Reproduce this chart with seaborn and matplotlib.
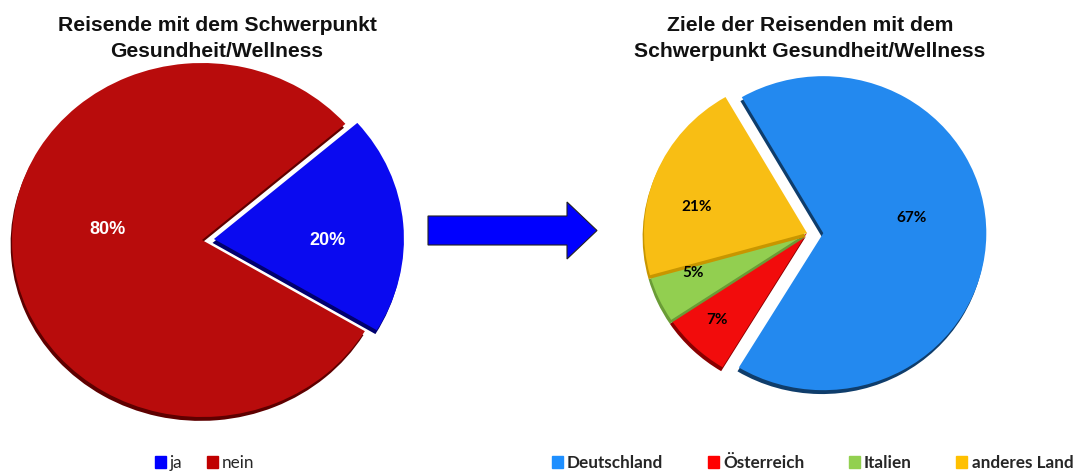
import matplotlib
matplotlib.use("Agg")
import matplotlib.pyplot as plt
import matplotlib.patheffects as pe
from matplotlib.patches import Patch, FancyArrow
import numpy as np
import seaborn as sns

W, H = 1077, 473

# data
left_title = ["Reisende mit dem Schwerpunkt", "Gesundheit/Wellness"]
left_labels = ["ja", "nein"]
left_values = [20, 80]

right_title = ["Ziele der Reisenden mit dem", "Schwerpunkt Gesundheit/Wellness"]
right_labels = ["Deutschland", "Österreich", "Italien", "anderes Land"]
right_values = [67, 7, 5, 21]

# colours
left_colors = ["#0A0AF0", "#B80C0C"]
left_shadow = ["#00006E", "#5E0000"]
left_legend = ["#0000FF", "#C00000"]
right_colors = ["#2389EF", "#F20C0C", "#92CF50", "#F8BE14"]
right_shadow = ["#0F3D6B", "#8A0000", "#6A9C36", "#C89600"]
right_legend = ["#1E8FFF", "#FF0000", "#92D050", "#FFC000"]

sns.set_theme(style="white")
plt.rcParams["font.family"] = ["Liberation Sans", "DejaVu Sans"]

fig = plt.figure(figsize=(W / 100, H / 100), dpi=100)

# overlay axes in pixel units (y up) for titles, arrow and legends
ax0 = fig.add_axes([0, 0, 1, 1])
ax0.set_xlim(0, W)
ax0.set_ylim(0, H)
ax0.axis("off")


def pie_axes(cx, cy, rx, ry, pad=1.3):
    # cx, cy in image pixels (measured from top)
    return fig.add_axes([(cx - pad * rx) / W, (H - cy - pad * ry) / H,
                         2 * pad * rx / W, 2 * pad * ry / H])


def draw_pie(ax, values, colors, shadows, startangle, explode, label_r, label_shift, text_kw):
    wedges, _ = ax.pie(values, colors=colors, startangle=startangle,
                       counterclock=False, explode=explode, radius=1,
                       frame=True, wedgeprops=dict(linewidth=0))
    for w, sh in zip(wedges, shadows):
        w.set_path_effects([pe.SimplePatchShadow(offset=(-1, -2.8), shadow_rgbFace=sh, alpha=1.0),
                            pe.Normal()])
    for w, v, r, s in zip(wedges, values, label_r, label_shift):
        ang = np.deg2rad((w.theta1 + w.theta2) / 2 + s)
        cx, cy = w.center
        ax.text(cx + r * np.cos(ang), cy + r * np.sin(ang), f"{v}%",
                ha="center", va="center", **text_kw)
    ax.set_xlim(-1.3, 1.3)
    ax.set_ylim(-1.3, 1.3)
    ax.set_aspect("auto")
    ax.axis("off")


# left pie
axl = pie_axes(202, 240, 190, 177)
draw_pie(axl, left_values, left_colors, left_shadow, startangle=41,
         explode=[0.063, 0], label_r=[0.6, 0.5], label_shift=[-6, -12],
         text_kw=dict(color="white", fontsize=13, fontweight="bold"))

# right pie
axr = pie_axes(807, 233, 163, 157)
draw_pie(axr, right_values, right_colors, right_shadow, startangle=120,
         explode=[0.1, 0, 0, 0], label_r=[0.55, 0.78, 0.745, 0.695],
         label_shift=[10.5, -1, -4.5, 8.5],
         text_kw=dict(color="black", fontsize=11, fontweight="bold", family=["Lato", "DejaVu Sans"]))

# titles
for x, lines in [(217, left_title), (810, right_title)]:
    for y, line in zip([31, 57], lines):
        ax0.text(x, H - y, line, ha="center", va="baseline", fontsize=15.2,
                 fontweight="bold", color="#111111")

# arrow between the pies
ax0.add_patch(FancyArrow(428, H - 230.5, 169, 0, width=29, head_width=57,
                         head_length=30, length_includes_head=True,
                         fc="#0000FF", ec="#222222", lw=0.8))

# legends
leg1 = ax0.legend(handles=[Patch(color=c, label=l) for c, l in zip(left_legend, left_labels)],
                  loc="center", bbox_to_anchor=(204.5, H - 463), bbox_transform=ax0.transData,
                  ncol=2, frameon=False, handlelength=0.65, handleheight=0.65,
                  handletextpad=0.25, columnspacing=1.4,
                  prop=dict(family=["Lato", "DejaVu Sans"], size=12.3))
ax0.add_artist(leg1)
ax0.legend(handles=[Patch(color=c, label=l) for c, l in zip(right_legend, right_labels)],
           loc="center", bbox_to_anchor=(812.5, H - 463), bbox_transform=ax0.transData,
           ncol=4, frameon=False, handlelength=0.65, handleheight=0.65,
           handletextpad=0.25, columnspacing=2.6,
           prop=dict(family=["Lato", "DejaVu Sans"], size=12.3, weight="bold"))

fig.savefig("out.png", dpi=100)
